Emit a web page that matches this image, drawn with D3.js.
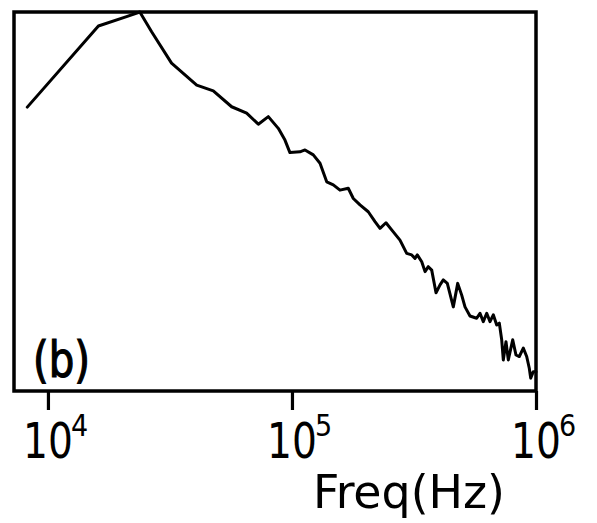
<!DOCTYPE html>
<html>
<head>
<meta charset="utf-8">
<script src="https://cdn.jsdelivr.net/npm/d3@7"></script>
<style>
  html, body { margin: 0; padding: 0; background: #fff; }
  svg { display: block; }
  .lbl { font-family: "Liberation Sans Narrow", "DejaVu Sans Condensed", "Liberation Sans", sans-serif; fill: #000; }
</style>
</head>
<body>
<svg id="chart" width="597" height="523"></svg>
<script>
// Frequency (Hz) of each traced point along the spectrum curve
const freqHz = [8230, 16100, 21000, 23800, 26600, 32100, 40700, 47600, 56600, 65200,
  72800, 80000, 87900, 93600, 98100, 107800, 113100, 122300, 130300, 138800,
  147700, 157300, 170100, 178400, 190000, 205400, 218900, 229500, 242800, 256200,
  277100, 295200, 309500, 319300, 326300, 340200, 351000, 362000, 373800, 389300,
  404300, 417000, 433100, 458300, 477700, 496100, 511700, 536400, 571400, 589500,
  608200, 628100, 648000, 668400, 690200, 707400, 723500, 734600, 753400, 770000,
  802700, 827900, 854200, 887100, 915900, 938600, 951200, 974800, 1000000];
// Relative spectral level (arbitrary units, 0 = bottom of frame, 100 = top)
const level = [74.9, 96.3, 98.8, 100, 94.8, 86.5, 80.7, 79.2, 75.0, 73.3,
  70.4, 72.4, 69.3, 66.2, 62.9, 63.1, 63.6, 62.3, 60.1, 55.2,
  54.4, 53.0, 53.5, 50.8, 49.1, 47.3, 44.7, 42.9, 44.4, 42.5,
  39.8, 36.3, 35.9, 35.0, 35.9, 34.1, 31.5, 32.8, 31.9, 25.9,
  28.0, 29.3, 28.4, 22.2, 28.4, 25.3, 22.2, 19.8, 19.2, 20.5,
  18.3, 20.5, 18.3, 20.1, 17.4, 17.9, 13.5, 8.2, 13.0, 8.2,
  13.5, 9.5, 9.1, 11.3, 9.1, 6.0, 3.4, 5.1, 5.1];
const tickExponents = [4, 5, 6];
const xLabel = "Freq(Hz)";
const panelLabel = "(b)";

(function () {
const svg = d3.select("#chart");
const mL = 14, mR = 536, mT = 12, mB = 391;

const x = d3.scaleLog().domain([7260, 1e6]).range([mL, mR]);
const y = d3.scaleLinear().domain([0, 100]).range([mB, mT]);

// curve
const line = d3.line().x((d, i) => x(freqHz[i])).y(d => y(d));
svg.append("path")
  .datum(level)
  .attr("d", line)
  .attr("fill", "none")
  .attr("stroke", "#000")
  .attr("stroke-width", 3)
  .attr("stroke-linejoin", "round")
  .attr("stroke-linecap", "round");

// frame
svg.append("rect")
  .attr("x", mL).attr("y", mT)
  .attr("width", mR - mL).attr("height", mB - mT)
  .attr("fill", "none").attr("stroke", "#000").attr("stroke-width", 3.5);

// x axis ticks
const ax = svg.append("g").attr("transform", `translate(0,${mB})`)
  .call(d3.axisBottom(x)
    .tickValues(tickExponents.map(e => Math.pow(10, e)))
    .tickSize(19).tickSizeOuter(0).tickFormat(""));
ax.select(".domain").remove();
ax.selectAll(".tick line").attr("stroke", "#000").attr("stroke-width", 3.2);

// tick labels: "10" centred on tick, exponent after it
tickExponents.forEach(e => {
  const tx = x(Math.pow(10, e));
  svg.append("text").attr("class", "lbl")
    .attr("transform", `translate(${tx},458) scale(0.87,1)`)
    .attr("text-anchor", "middle")
    .attr("font-size", 50)
    .text("10");
  svg.append("text").attr("class", "lbl")
    .attr("x", tx + 23).attr("y", 436)
    .attr("font-size", 30)
    .text(String(e));
});

// axis title
svg.append("text").attr("class", "lbl")
  .attr("x", 313).attr("y", 508)
  .attr("font-size", 46)
  .attr("textLength", 192).attr("lengthAdjust", "spacingAndGlyphs")
  .text(xLabel);

// panel label
svg.append("text").attr("class", "lbl")
  .attr("x", 33).attr("y", 377)
  .attr("font-size", 50)
  .attr("textLength", 57).attr("lengthAdjust", "spacingAndGlyphs")
  .attr("stroke", "#000").attr("stroke-width", 1.2)
  .text(panelLabel);
})();
</script>
</body>
</html>
